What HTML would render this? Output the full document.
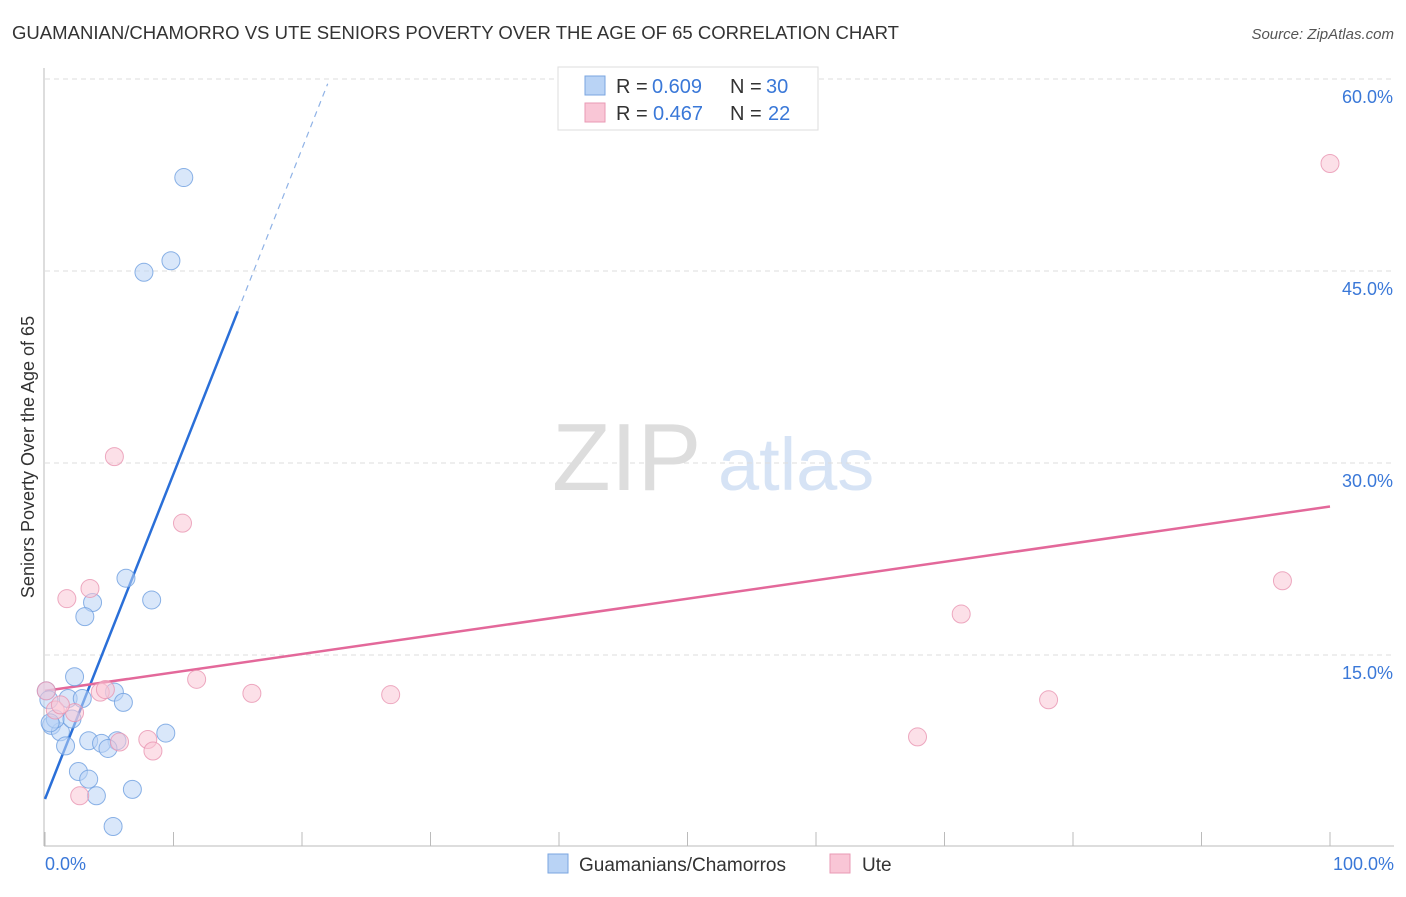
<!DOCTYPE html>
<html><head><meta charset="utf-8"><style>
body{margin:0;background:#fff;font-family:"Liberation Sans",sans-serif;}
svg text{font-family:"Liberation Sans",sans-serif;}
</style></head><body>
<svg id="chart" width="1406" height="892" xmlns="http://www.w3.org/2000/svg">
<text x="12" y="39" font-size="18" fill="#333" textLength="887" lengthAdjust="spacingAndGlyphs">GUAMANIAN/CHAMORRO VS UTE SENIORS POVERTY OVER THE AGE OF 65 CORRELATION CHART</text>
<text x="1394" y="39" font-size="15" fill="#555" font-style="italic" text-anchor="end">Source: ZipAtlas.com</text>
<text x="0" y="0" transform="translate(34,457) rotate(-90)" font-size="18" fill="#333" text-anchor="middle">Seniors Poverty Over the Age of 65</text>
<g><text x="552" y="490" font-size="96" fill="#ddd" font-family="Liberation Serif">ZIP</text><text x="718" y="490" font-size="74" fill="#d6e3f5">atlas</text></g>
<g id="grid"></g><g id="axes"></g><g id="lines"></g><g id="pts"></g>
<g>
<rect x="558" y="67" width="260" height="63" fill="#fff" stroke="#ddd"/>
<rect x="585" y="76" width="20" height="19" fill="#b9d3f5" stroke="#7aa6e0"/>
<rect x="585" y="103" width="20" height="19" fill="#f9c6d6" stroke="#e99ab4"/>
<g font-size="20" fill="#333">
<text x="616" y="93">R =</text><text x="652" y="93" fill="#3a78d8">0.609</text><text x="730" y="93">N =</text><text x="766" y="93" fill="#3a78d8">30</text></g>
<g font-size="20" fill="#333">
<text x="616" y="120">R =</text><text x="653" y="120" fill="#3a78d8">0.467</text><text x="730" y="120">N =</text><text x="768" y="120" fill="#3a78d8">22</text></g>
</g>
<g>
<rect x="548" y="854" width="20" height="19" fill="#b9d3f5" stroke="#7aa6e0"/>
<text x="579" y="871" font-size="19" fill="#333">Guamanians/Chamorros</text>
<rect x="830" y="854" width="20" height="19" fill="#f9c6d6" stroke="#e99ab4"/>
<text x="862" y="871" font-size="19" fill="#333">Ute</text>
</g>
</svg>
<script>
const yTicks=[15,30,45,60];
const xTickLabels=["0.0%","100.0%"];
const blueX=[10.8,7.7,9.8,6.3,8.3,3.7,3.1,2.3,1.8,2.9,5.4,6.1,0.1,0.5,1.2,0.8,2.1,1.6,3.4,5.6,4.4,4.9,9.4,2.6,3.4,4.0,6.8,5.3,0.4,0.3];
const blueY=[52.3,44.9,45.8,21.0,19.3,19.1,18.0,13.3,11.6,11.6,12.1,11.3,12.2,9.5,9.0,10.0,10.0,7.9,8.3,8.3,8.1,7.7,8.9,5.9,5.3,4.0,4.5,1.6,9.7,11.5];
const pinkX=[100,5.4,10.7,3.5,1.7,96.3,71.3,11.8,16.1,26.9,78.1,67.9,0.1,0.8,2.3,4.3,4.7,5.8,8.0,8.4,2.7,1.2];
const pinkY=[53.4,30.5,25.3,20.2,19.4,20.8,18.2,13.1,12.0,11.9,11.5,8.6,12.2,10.7,10.5,12.1,12.3,8.2,8.4,7.5,4.0,11.1];
const blueFit=[3.75,2.54], blueSolidEnd=15, blueDashEnd=22;
const pinkFit=[12.2,0.144];
const X=v=>45+v*12.85, Y=v=>847-v*12.8;
const NS="http://www.w3.org/2000/svg";
function mk(t,a,p){const e=document.createElementNS(NS,t);for(const k in a)e.setAttribute(k,a[k]);p.appendChild(e);return e;}
const grid=document.getElementById('grid'),axes=document.getElementById('axes'),lines=document.getElementById('lines'),pts=document.getElementById('pts');
yTicks.forEach(v=>{
 const l=mk('line',{x1:45,x2:1394,y1:Y(v),y2:Y(v),stroke:'#ddd','stroke-dasharray':'5,4'},grid);
 
 
 const t=mk('text',{x:1393,y:Y(v)+24,'font-size':18,fill:'#3a78d8','text-anchor':'end'},axes);t.textContent=v.toFixed(1)+'%';
 
 
});
const ax=mk('line',{x1:44,x2:44,y1:68,y2:846,stroke:'#bbb'},axes);


const bx=mk('line',{x1:44,x2:1394,y1:846,y2:846,stroke:'#bbb'},axes);


for(let i=0;i<=10;i++){const t=mk('line',{x1:X(i*10),x2:X(i*10),y1:832,y2:846,stroke:'#bbb'},axes);
 
 }
[[0,'start',45],[1,'end',1394]].forEach(([i,a,x])=>{const t=mk('text',{x:x,y:870,'font-size':18,fill:'#3a78d8','text-anchor':a},axes);t.textContent=xTickLabels[i];
 
 });
function dot(x,y,f,s,n){const c=mk('circle',{cx:X(x),cy:Y(y),r:9,fill:f,'fill-opacity':0.55,stroke:s,'stroke-opacity':0.8},pts);
 
 }
blueX.forEach((x,i)=>dot(x,blueY[i],'#b9d3f5','#6e9fe0','guamanian-point'));
pinkX.forEach((x,i)=>dot(x,pinkY[i],'#f9c6d6','#e995b1','ute-point'));
const bl=mk('line',{x1:X(0),y1:Y(blueFit[0]),x2:X(blueSolidEnd),y2:Y(blueFit[0]+blueFit[1]*blueSolidEnd),stroke:'#2a6fd8','stroke-width':2.5},lines);


const bd=mk('line',{x1:X(blueSolidEnd),y1:Y(blueFit[0]+blueFit[1]*blueSolidEnd),x2:X(blueDashEnd),y2:Y(blueFit[0]+blueFit[1]*blueDashEnd),stroke:'#8fb2e6','stroke-width':1.2,'stroke-dasharray':'6,5'},lines);


const pl=mk('line',{x1:X(0),y1:Y(pinkFit[0]),x2:X(100),y2:Y(pinkFit[0]+pinkFit[1]*100),stroke:'#e3689a','stroke-width':2.5},lines);


</script>
</body></html>
